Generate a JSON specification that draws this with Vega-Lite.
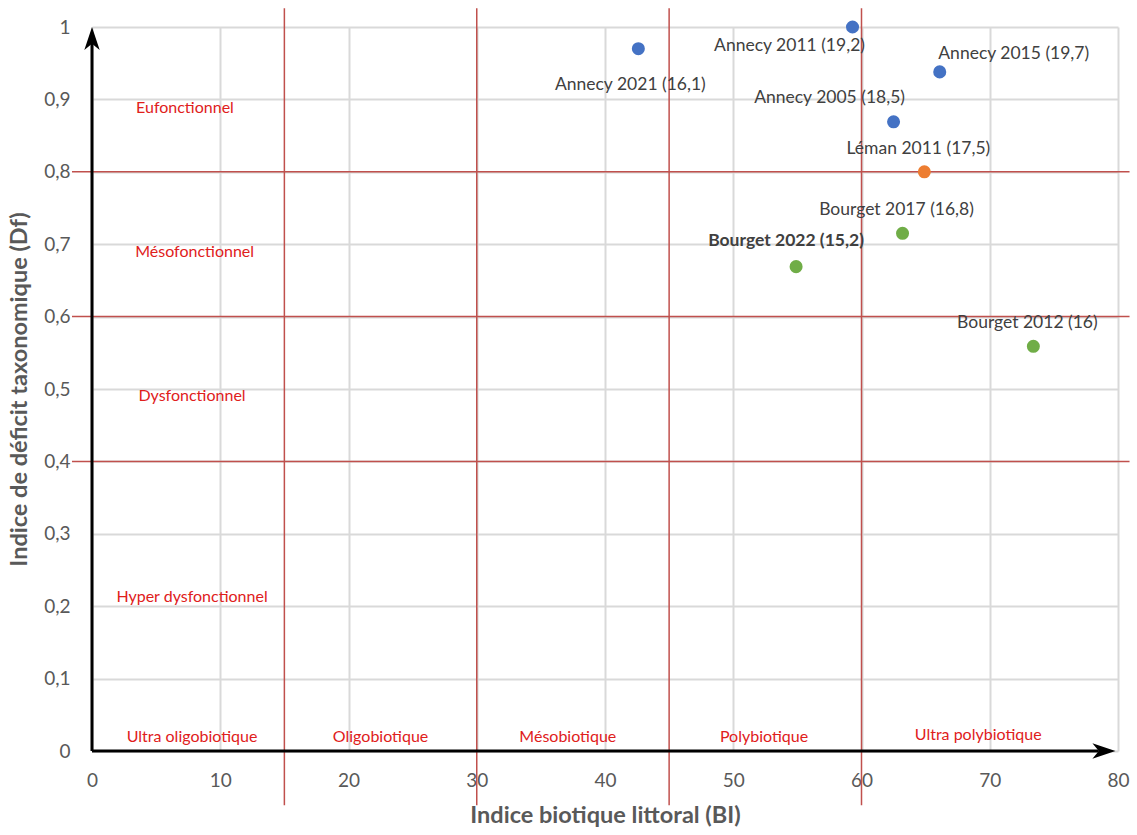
{
  "$schema": "https://vega.github.io/schema/vega-lite/v6.json",
  "width": 1026,
  "height": 724,
  "autosize": {"type": "none"},
  "padding": {"left": 92, "top": 27, "right": 19, "bottom": 84},
  "background": "white",
  "config": {
    "view": {"stroke": null},
    "font": "Lato",
    "axis": {"labelFont": "Lato", "titleFont": "Lato"}
  },
  "datasets": {
    "points": [
      {"lac": "Annecy 2021 (16,1)", "groupe": "Annecy", "bi": 42.6, "df": 0.97, "pos": "a2021"},
      {"lac": "Annecy 2011 (19,2)", "groupe": "Annecy", "bi": 59.3, "df": 1.0, "pos": "a2011"},
      {"lac": "Annecy 2015 (19,7)", "groupe": "Annecy", "bi": 66.1, "df": 0.938, "pos": "a2015"},
      {"lac": "Annecy 2005 (18,5)", "groupe": "Annecy", "bi": 62.5, "df": 0.869, "pos": "a2005"},
      {"lac": "Léman 2011 (17,5)", "groupe": "Léman", "bi": 64.9, "df": 0.8, "pos": "above"},
      {"lac": "Bourget 2017 (16,8)", "groupe": "Bourget", "bi": 63.2, "df": 0.715, "pos": "above"},
      {"lac": "Bourget 2022 (15,2)", "groupe": "Bourget", "bi": 54.9, "df": 0.669, "pos": "bold"},
      {"lac": "Bourget 2012 (16)", "groupe": "Bourget", "bi": 73.4, "df": 0.559, "pos": "above"}
    ],
    "zones": [
      {"label": "Eufonctionnel", "x": 7.25, "y": 0.888},
      {"label": "Mésofonctionnel", "x": 8.0, "y": 0.689},
      {"label": "Dysfonctionnel", "x": 7.8, "y": 0.49},
      {"label": "Hyper dysfonctionnel", "x": 7.8, "y": 0.213},
      {"label": "Ultra oligobiotique", "x": 7.8, "y": 0.02},
      {"label": "Oligobiotique", "x": 22.5, "y": 0.019},
      {"label": "Mésobiotique", "x": 37.1, "y": 0.019},
      {"label": "Polybiotique", "x": 52.4, "y": 0.019},
      {"label": "Ultra polybiotique", "x": 69.1, "y": 0.022}
    ]
  },
  "layer": [
    {
      "data": {"values": [{"v": 0}]},
      "mark": {"type": "rule", "opacity": 0},
      "encoding": {
        "x": {
          "field": "v", "type": "quantitative",
          "scale": {"domain": [0, 80], "nice": false, "zero": false},
          "axis": {
            "values": [0, 10, 20, 30, 40, 50, 60, 70, 80],
            "domain": false, "ticks": false, "labelFlush": false, "labelOverlap": false,
            "grid": true, "gridColor": "#d9d9d9", "gridWidth": 2,
            "labelFontSize": 19, "labelColor": "#595959", "labelPadding": 20,
            "title": "Indice biotique littoral (BI)",
            "titleFontSize": 23.5, "titleFontWeight": "bold", "titleColor": "#595959", "titlePadding": 13
          }
        },
        "y": {
          "field": "v", "type": "quantitative",
          "scale": {"domain": [0, 1], "nice": false, "zero": false},
          "axis": {
            "values": [0, 0.1, 0.2, 0.3, 0.4, 0.5, 0.6, 0.7, 0.8, 0.9, 1],
            "labelExpr": "replace(format(datum.value, '.1~f'), '.', ',')",
            "domain": false, "ticks": false, "labelFlush": false, "labelOverlap": false,
            "grid": true, "gridColor": "#d9d9d9", "gridWidth": 2,
            "labelFontSize": 19, "labelColor": "#595959", "labelPadding": 22,
            "title": "Indice de déficit taxonomique (Df)",
            "titleFontSize": 23.5, "titleFontWeight": "bold", "titleColor": "#595959", "titlePadding": 12
          }
        }
      }
    },
    {
      "data": {"values": [{"b": 15}, {"b": 30}, {"b": 45}, {"b": 60}]},
      "mark": {"type": "rule", "color": "#c0504d", "strokeWidth": 1.5},
      "encoding": {
        "x": {"field": "b", "type": "quantitative"},
        "y": {"datum": -0.075},
        "y2": {"datum": 1.026}
      }
    },
    {
      "data": {"values": [{"b": 0.8}, {"b": 0.6}, {"b": 0.4}]},
      "mark": {"type": "rule", "color": "#c0504d", "strokeWidth": 1.5},
      "encoding": {
        "y": {"field": "b", "type": "quantitative"},
        "x": {"datum": -1.56},
        "x2": {"datum": 80.9}
      }
    },
    {
      "data": {"values": [{"a": "x"}]},
      "mark": {"type": "rule", "color": "black", "strokeWidth": 3},
      "encoding": {
        "x": {"datum": 0},
        "x2": {"datum": 78.5},
        "y": {"datum": 0}
      }
    },
    {
      "data": {"values": [{"a": "y"}]},
      "mark": {"type": "rule", "color": "black", "strokeWidth": 3},
      "encoding": {
        "x": {"datum": 0},
        "y": {"datum": 0},
        "y2": {"datum": 0.98}
      }
    },
    {
      "data": {"values": [{"a": "y"}]},
      "mark": {"type": "point", "filled": true, "color": "black", "opacity": 1, "size": 655,
               "shape": "M0,0 L0.6,1.8 L0,1.3 L-0.6,1.8 Z"},
      "encoding": {"x": {"datum": 0}, "y": {"datum": 1}}
    },
    {
      "data": {"values": [{"a": "x"}]},
      "mark": {"type": "point", "filled": true, "color": "black", "opacity": 1, "size": 655,
               "shape": "M0,0 L-1.8,-0.6 L-1.3,0 L-1.8,0.6 Z"},
      "encoding": {"x": {"datum": 79.8}, "y": {"datum": 0}}
    },
    {
      "data": {"name": "zones"},
      "mark": {"type": "text", "color": "#e0201b", "fontSize": 16, "align": "center", "baseline": "middle"},
      "encoding": {
        "x": {"field": "x", "type": "quantitative"},
        "y": {"field": "y", "type": "quantitative"},
        "text": {"field": "label"}
      }
    },
    {
      "data": {"name": "points"},
      "mark": {"type": "circle", "size": 170, "opacity": 1},
      "encoding": {
        "x": {"field": "bi", "type": "quantitative"},
        "y": {"field": "df", "type": "quantitative"},
        "color": {
          "field": "groupe", "type": "nominal",
          "scale": {"domain": ["Annecy", "Léman", "Bourget"], "range": ["#4472c4", "#ed7d31", "#70ad47"]},
          "legend": null
        }
      }
    },
    {
      "data": {"name": "points"},
      "transform": [{"filter": "datum.pos === 'above'"}],
      "mark": {"type": "text", "fontSize": 17.5, "color": "#404040", "align": "center", "baseline": "middle", "dx": -6, "dy": -23},
      "encoding": {
        "x": {"field": "bi", "type": "quantitative"},
        "y": {"field": "df", "type": "quantitative"},
        "text": {"field": "lac"}
      }
    },
    {
      "data": {"name": "points"},
      "transform": [{"filter": "datum.pos === 'bold'"}],
      "mark": {"type": "text", "fontSize": 17.5, "fontWeight": "bold", "color": "#404040", "align": "center", "baseline": "middle", "dx": -10, "dy": -26},
      "encoding": {
        "x": {"field": "bi", "type": "quantitative"},
        "y": {"field": "df", "type": "quantitative"},
        "text": {"field": "lac"}
      }
    },
    {
      "data": {"name": "points"},
      "transform": [{"filter": "datum.pos === 'a2021'"}],
      "mark": {"type": "text", "fontSize": 17.5, "color": "#404040", "align": "center", "baseline": "middle", "dx": -8, "dy": 36},
      "encoding": {
        "x": {"field": "bi", "type": "quantitative"},
        "y": {"field": "df", "type": "quantitative"},
        "text": {"field": "lac"}
      }
    },
    {
      "data": {"name": "points"},
      "transform": [{"filter": "datum.pos === 'a2011'"}],
      "mark": {"type": "text", "fontSize": 17.5, "color": "#404040", "align": "center", "baseline": "middle", "dx": -63, "dy": 19},
      "encoding": {
        "x": {"field": "bi", "type": "quantitative"},
        "y": {"field": "df", "type": "quantitative"},
        "text": {"field": "lac"}
      }
    },
    {
      "data": {"name": "points"},
      "transform": [{"filter": "datum.pos === 'a2015'"}],
      "mark": {"type": "text", "fontSize": 17.5, "color": "#404040", "align": "center", "baseline": "middle", "dx": 74, "dy": -18},
      "encoding": {
        "x": {"field": "bi", "type": "quantitative"},
        "y": {"field": "df", "type": "quantitative"},
        "text": {"field": "lac"}
      }
    },
    {
      "data": {"name": "points"},
      "transform": [{"filter": "datum.pos === 'a2005'"}],
      "mark": {"type": "text", "fontSize": 17.5, "color": "#404040", "align": "center", "baseline": "middle", "dx": -64, "dy": -24},
      "encoding": {
        "x": {"field": "bi", "type": "quantitative"},
        "y": {"field": "df", "type": "quantitative"},
        "text": {"field": "lac"}
      }
    }
  ]
}
